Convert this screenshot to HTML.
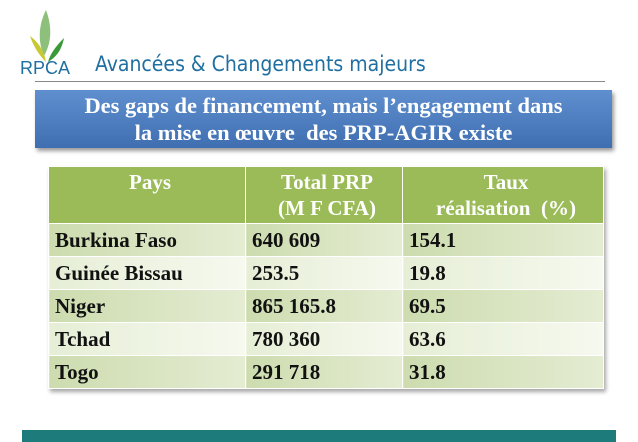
<!DOCTYPE html>
<html><head><meta charset="utf-8"><style>
body{margin:0;width:638px;height:442px;background:#fff;position:relative;overflow:hidden;font-family:"Liberation Serif",serif}
.abs{position:absolute}
table{border-collapse:collapse;position:absolute;left:48px;top:166px;width:556px;box-shadow:2px 3px 4px rgba(0,0,0,.35)}
td,th{border:1px solid #fff;padding:0 0 0 6px;font-size:21px;font-weight:bold;text-align:left;color:#111}
th{background:#9bbb59;color:#fff;height:56px;text-align:center;line-height:26px;font-weight:bold}
tr.a td{background:linear-gradient(90deg,#cddcaf,#e4ecd2);height:32px}
tr.b td{background:linear-gradient(90deg,#e6eed6,#f6f9ef);height:32px}
</style></head><body>
<div class="abs" style="left:20px;top:8px;width:60px;height:70px">
<svg width="60" height="70"><path d="M26 2 C18 18 18 34 24 48 C32 34 32 18 26 2Z" fill="#8dc07a"/><path d="M10 28 C14 40 20 48 26 54 C24 42 18 34 10 28Z" fill="#c8c832"/><path d="M44 30 C36 38 30 46 28 54 C38 48 42 40 44 30Z" fill="#3a9a3a"/></svg>
<div style="position:absolute;left:0;top:50px;font:18px 'Liberation Sans',sans-serif;color:#1f6fa0">RPCA</div>
</div>
<div class="abs" style="left:95px;top:52px;font:21px 'DejaVu Sans Condensed','DejaVu Sans',sans-serif;color:#1f6fa0">Avancées &amp; Changements majeurs</div>
<div class="abs" style="left:35px;top:81px;width:570px;height:1px;background:#888"></div>
<div class="abs" style="left:35px;top:90px;width:577px;height:58px;background:linear-gradient(180deg,#5f8fcf,#3f6fb0);box-shadow:2px 3px 4px rgba(0,0,0,.4);color:#fff;font-size:22.5px;font-weight:bold;text-align:center;line-height:27px;padding-top:2px;box-sizing:border-box">Des gaps de financement, mais l’engagement dans<br>la mise en œuvre&nbsp; des PRP-AGIR existe</div>
<table>
<tr><th style="width:190px">Pays<br>&nbsp;</th><th style="width:150px">Total PRP<br>(M F CFA)</th><th>Taux<br>réalisation&nbsp; (%)</th></tr>
<tr class="a"><td>Burkina Faso</td><td>640 609</td><td>154.1</td></tr>
<tr class="b"><td>Guinée Bissau</td><td>253.5</td><td>19.8</td></tr>
<tr class="a"><td>Niger</td><td>865 165.8</td><td>69.5</td></tr>
<tr class="b"><td>Tchad</td><td>780 360</td><td>63.6</td></tr>
<tr class="a"><td>Togo</td><td>291 718</td><td>31.8</td></tr>
</table>
<div class="abs" style="left:22px;top:430px;width:594px;height:12px;background:#1e7b7b"></div>
</body></html>
